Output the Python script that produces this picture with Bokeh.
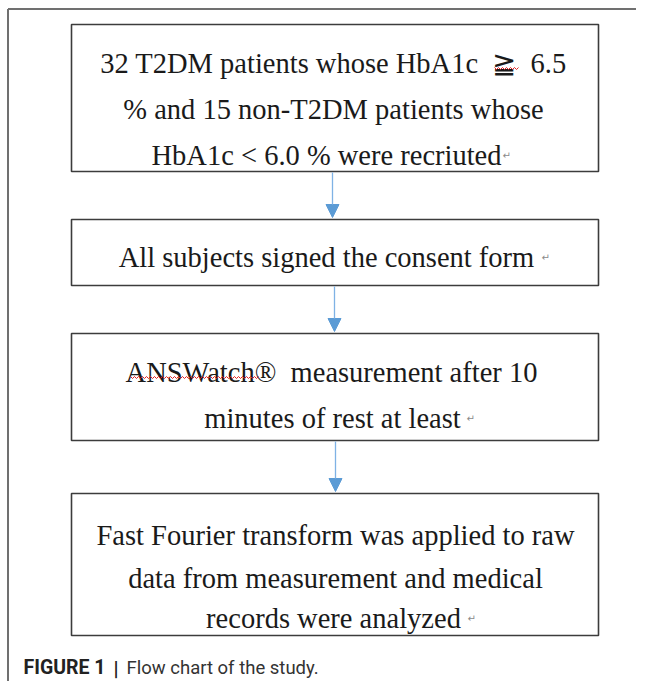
from bokeh.plotting import figure
from bokeh.models import Range1d, Arrow, NormalHead
from bokeh.core.properties import value
from bokeh.embed import file_html
from bokeh.resources import INLINE
import numpy as np

NB = "\u00a0"
# ---- content ----
step1 = ["32 T2DM patients whose HbA1c" + NB * 2 + "\u2267" + NB * 2 + "6.5",
         "% and 15 non-T2DM patients whose",
         "HbA1c < 6.0 % were recriuted"]
step2 = ["All subjects signed the consent form"]
step3 = ["ANSWatch\u00ae" + NB * 2 + "measurement after 10",
         "minutes of rest at least"]
step4 = ["Fast Fourier transform was applied to raw",
         "data from measurement and medical",
         "records were analyzed"]
steps = [step1, step2, step3, step4]
caption_bold = "FIGURE 1"
caption_bar = "|"
caption_text = "Flow chart of the study."

# ---- layout (pixel coordinates of the picture) ----
box_left, box_right = 71, 598
box_top = [24, 219, 333, 493]
box_bottom = [171, 285, 440, 635]
line_base = [[63, 109, 155], [257], [372, 418], [535, 578, 618]]
line_cx = [[333, 333, 326], [326], [331, 332], [335, 335, 333]]
ret_mark = [(502, 155), (541, 257), (466, 418), (467, 618)]
arrow_x = [332, 334, 335]
caption_y = 667

W, H = 636, 681
p = figure(width=W, height=H, x_range=Range1d(0, W), y_range=Range1d(H, 0),
           x_axis_type=None, y_axis_type=None, toolbar_location=None,
           output_backend="svg", min_border=0)
p.outline_line_color = None
p.background_fill_color = "white"
p.border_fill_color = "white"
p.xgrid.visible = False
p.ygrid.visible = False

# outer frame (top and left)
p.line([7.5, 7.5], [H, 8.5], line_color="#707070", line_width=2)
p.line([7.5, W], [8.5, 8.5], line_color="#707070", line_width=2)

# boxes
p.quad(left=[box_left] * 4, right=[box_right] * 4, top=box_top, bottom=box_bottom,
       fill_color="white", line_color="#3c3c3c", line_width=1.6)

# arrows
for i in range(3):
    p.add_layout(Arrow(end=NormalHead(size=13, fill_color="#5b9bd5", line_color="#5b9bd5"),
                       x_start=arrow_x[i], y_start=box_bottom[i] + 1,
                       x_end=arrow_x[i], y_end=box_top[i + 1] - 2,
                       line_color="#7fb2e5", line_width=1.3))

# texts
xs, ys, ts = [], [], []
for s, lines in enumerate(steps):
    for j, t in enumerate(lines):
        xs.append(line_cx[s][j]); ys.append(line_base[s][j]); ts.append(t)
p.text(x=xs, y=ys, text=ts, text_font=value("Liberation Serif"), text_font_size="28.5px",
       text_align="center", text_baseline="alphabetic", text_color="#1a1a1a")

# paragraph marks
p.text(x=[m[0] for m in ret_mark], y=[m[1] for m in ret_mark], text=["\u21b5"] * len(ret_mark),
       text_font=value("DejaVu Sans"), text_font_size="10px", text_align="left",
       text_baseline="alphabetic", text_color="#8a8a8a")

# spell-check wavy underlines
for (x0, x1, yb) in [(494, 518, 68), (130, 258, 377)]:
    wx = np.arange(x0, x1 + 1, 2.0)
    wy = yb + np.where(np.arange(len(wx)) % 2 == 0, -1.0, 1.0)
    p.line(wx, wy, line_color="#e02020", line_width=1)

# caption
p.text(x=[23], y=[caption_y], text=[caption_bold], text_font=value("Roboto"), text_font_size="19.5px",
       text_font_style="bold", text_align="left", text_baseline="alphabetic", text_color="#222222")
p.text(x=[113], y=[caption_y + 1], text=[caption_bar], text_font=value("Roboto"), text_font_size="20px",
       text_font_style="bold", text_align="left", text_baseline="alphabetic", text_color="#222222")
p.text(x=[126], y=[caption_y], text=[caption_text], text_font=value("Roboto"), text_font_size="18.5px",
       text_align="left", text_baseline="alphabetic", text_color="#333333")

open("out.html", "w").write(file_html(p, INLINE))
